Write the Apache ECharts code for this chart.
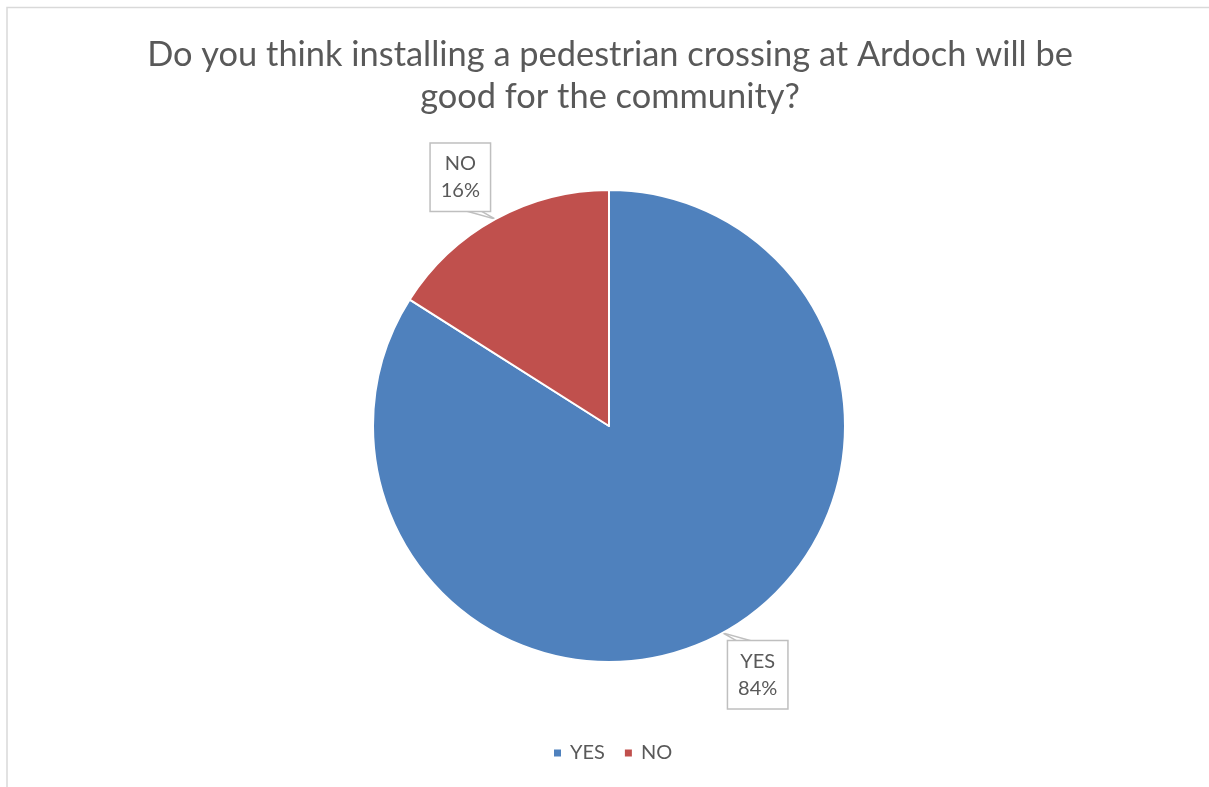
<!DOCTYPE html>
<html>
<head>
<meta charset="utf-8">
<script src="https://cdn.jsdelivr.net/npm/echarts@6/dist/echarts.min.js"></script>
<style>
  html, body { margin: 0; padding: 0; background: #fff; }
  #chart { width: 1209px; height: 787px; }
</style>
</head>
<body>
<div id="chart"></div>
<script>
// Survey answers
const titleLines = ['Do you think installing a pedestrian crossing at Ardoch will be', 'good for the community?'];
const categories = ['YES', 'NO'];
const shares = [84, 16];
const colors = ['#4f81bd', '#c0504d'];

const TEXT = '#595959';
const FONT = 'Lato, "Liberation Sans", Arial, sans-serif';
const BOX_W = 59, BOX_H = 67;
const PIE_CX = 609, PIE_CY = 426;

const chart = echarts.init(document.getElementById('chart'), null, { renderer: 'canvas' });

// Place each callout box diagonally out from its slice, with a small wedge pointing back at it
function calloutLayout(params) {
  const tip = params.labelLinePoints[0];
  const sx = tip[0] < PIE_CX ? -1 : 1;
  const sy = tip[1] < PIE_CY ? -1 : 1;
  const bx = tip[0] + sx * 35;
  const by = tip[1] + sy * 42;
  const edgeY = by - sy * BOX_H / 2;
  const b1 = [bx - sx * 5, edgeY];
  const b2 = [bx - sx * 20, edgeY];
  return {
    x: bx, y: by, align: 'center', verticalAlign: 'middle',
    labelLinePoints: [b1, tip, b2]
  };
}

chart.setOption({
  animation: false,
  backgroundColor: '#fff',
  legend: {
    bottom: 19,
    left: 547,
    icon: 'rect',
    itemWidth: 9,
    itemHeight: 9,
    itemGap: 18,
    data: categories,
    textStyle: { fontFamily: FONT, fontSize: 20, color: TEXT, padding: [0, 0, 0, 3] }
  },
  graphic: [{
    type: 'polyline',
    shape: { points: [[7, 800], [7, 7.5], [1220, 7.5]] },
    style: { stroke: '#d9d9d9', lineWidth: 1.5, fill: null },
    silent: true
  }, {
    // chart title, two centred lines
    type: 'text',
    x: 610,
    y: 34,
    silent: true,
    style: {
      text: titleLines.join('\n'),
      fontFamily: FONT,
      fontSize: 34.4,
      lineHeight: 42,
      fill: TEXT,
      align: 'center',
      verticalAlign: 'top'
    }
  }],
  series: [{
    type: 'pie',
    center: [PIE_CX, PIE_CY],
    radius: 236,
    startAngle: 90,
    clockwise: true,
    itemStyle: { borderColor: '#fff', borderWidth: 2 },
    label: {
      show: true,
      position: 'outside',
      formatter: '{b}\n{d}%',
      fontFamily: FONT,
      fontSize: 20,
      lineHeight: 27,
      color: TEXT,
      backgroundColor: '#fff',
      borderColor: '#bfbfbf',
      borderWidth: 1.5,
      width: BOX_W - 16,
      height: BOX_H - 14,
      padding: [7, 8],
      align: 'center'
    },
    labelLine: {
      show: true,
      length: 10,
      length2: 0,
      lineStyle: { color: '#bfbfbf', width: 1.5 }
    },
    labelLayout: calloutLayout,
    emphasis: { disabled: true },
    data: categories.map((name, i) => ({ name, value: shares[i], itemStyle: { color: colors[i] } }))
  }]
});
</script>
</body>
</html>
